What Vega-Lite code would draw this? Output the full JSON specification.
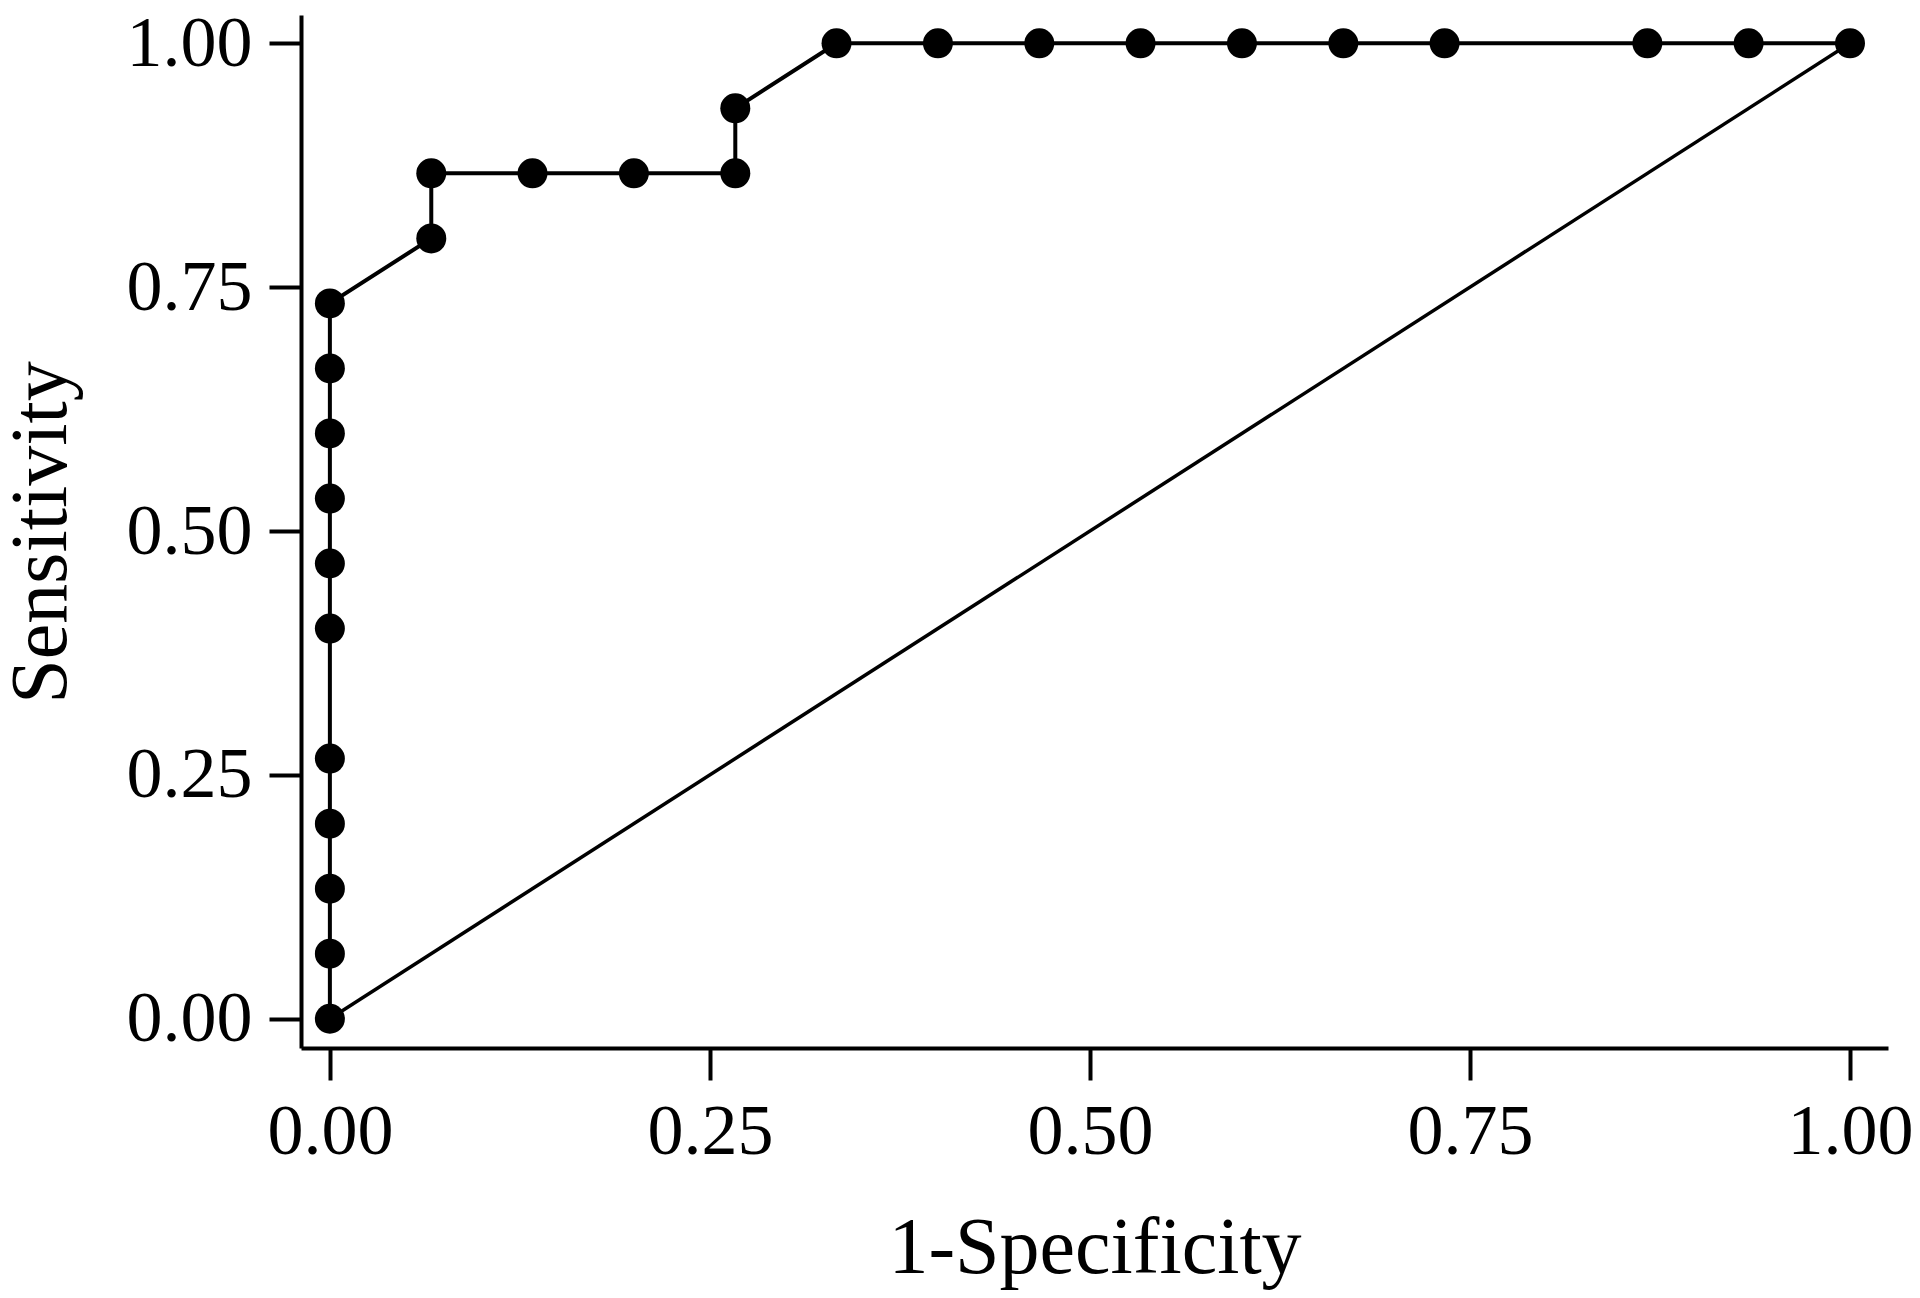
{
  "$schema": "https://vega.github.io/schema/vega-lite/v6.json",
  "width": 1587,
  "height": 1033,
  "autosize": {"type": "none"},
  "padding": {"left": 301, "top": 15, "right": 32, "bottom": 250},
  "background": "white",
  "config": {
    "view": {"stroke": null},
    "font": "Liberation Serif",
    "axis": {
      "grid": false,
      "domainColor": "black",
      "domainWidth": 4,
      "tickColor": "black",
      "tickWidth": 4,
      "tickSize": 32,
      "labelFont": "Liberation Serif",
      "labelFontSize": 72,
      "labelColor": "black",
      "titleFont": "Liberation Serif",
      "titleFontSize": 80,
      "titleFontWeight": "normal",
      "titleColor": "black"
    }
  },
  "datasets": {
    "roc": [
      {"i": 0, "fpr": 0, "tpr": 0},
      {"i": 1, "fpr": 0, "tpr": 0.0667},
      {"i": 2, "fpr": 0, "tpr": 0.1333},
      {"i": 3, "fpr": 0, "tpr": 0.2},
      {"i": 4, "fpr": 0, "tpr": 0.2667},
      {"i": 5, "fpr": 0, "tpr": 0.4},
      {"i": 6, "fpr": 0, "tpr": 0.4667},
      {"i": 7, "fpr": 0, "tpr": 0.5333},
      {"i": 8, "fpr": 0, "tpr": 0.6},
      {"i": 9, "fpr": 0, "tpr": 0.6667},
      {"i": 10, "fpr": 0, "tpr": 0.7333},
      {"i": 11, "fpr": 0.0667, "tpr": 0.8},
      {"i": 12, "fpr": 0.0667, "tpr": 0.8667},
      {"i": 13, "fpr": 0.1333, "tpr": 0.8667},
      {"i": 14, "fpr": 0.2, "tpr": 0.8667},
      {"i": 15, "fpr": 0.2667, "tpr": 0.8667},
      {"i": 16, "fpr": 0.2667, "tpr": 0.9333},
      {"i": 17, "fpr": 0.3333, "tpr": 1},
      {"i": 18, "fpr": 0.4, "tpr": 1},
      {"i": 19, "fpr": 0.4667, "tpr": 1},
      {"i": 20, "fpr": 0.5333, "tpr": 1},
      {"i": 21, "fpr": 0.6, "tpr": 1},
      {"i": 22, "fpr": 0.6667, "tpr": 1},
      {"i": 23, "fpr": 0.7333, "tpr": 1},
      {"i": 24, "fpr": 0.8667, "tpr": 1},
      {"i": 25, "fpr": 0.9333, "tpr": 1},
      {"i": 26, "fpr": 1, "tpr": 1}
    ],
    "diag": [
      {"i": 0, "fpr": 0, "tpr": 0},
      {"i": 1, "fpr": 1, "tpr": 1}
    ]
  },
  "encoding": {
    "x": {
      "field": "fpr",
      "type": "quantitative",
      "scale": {"domain": [-0.019, 1.025], "nice": false, "zero": false},
      "axis": {
        "title": "1-Specificity",
        "values": [0, 0.25, 0.5, 0.75, 1],
        "format": ".2f",
        "labelPadding": 16,
        "titleY": 224,
        "titleBaseline": "alphabetic"
      }
    },
    "y": {
      "field": "tpr",
      "type": "quantitative",
      "scale": {"domain": [-0.03, 1.029], "nice": false, "zero": false},
      "axis": {
        "title": "Sensitivity",
        "values": [0, 0.25, 0.5, 0.75, 1],
        "format": ".2f",
        "labelPadding": 17,
        "titleX": -236,
        "titleY": 517,
        "titleAngle": 270,
        "titleBaseline": "alphabetic",
        "titleAlign": "center"
      }
    },
    "order": {"field": "i", "type": "quantitative"}
  },
  "layer": [
    {
      "data": {"name": "diag"},
      "mark": {"type": "line", "color": "black", "strokeWidth": 3.5}
    },
    {
      "data": {"name": "roc"},
      "mark": {"type": "line", "color": "black", "strokeWidth": 4}
    },
    {
      "data": {"name": "roc"},
      "mark": {"type": "point", "filled": true, "color": "black", "opacity": 1, "size": 900}
    }
  ]
}
